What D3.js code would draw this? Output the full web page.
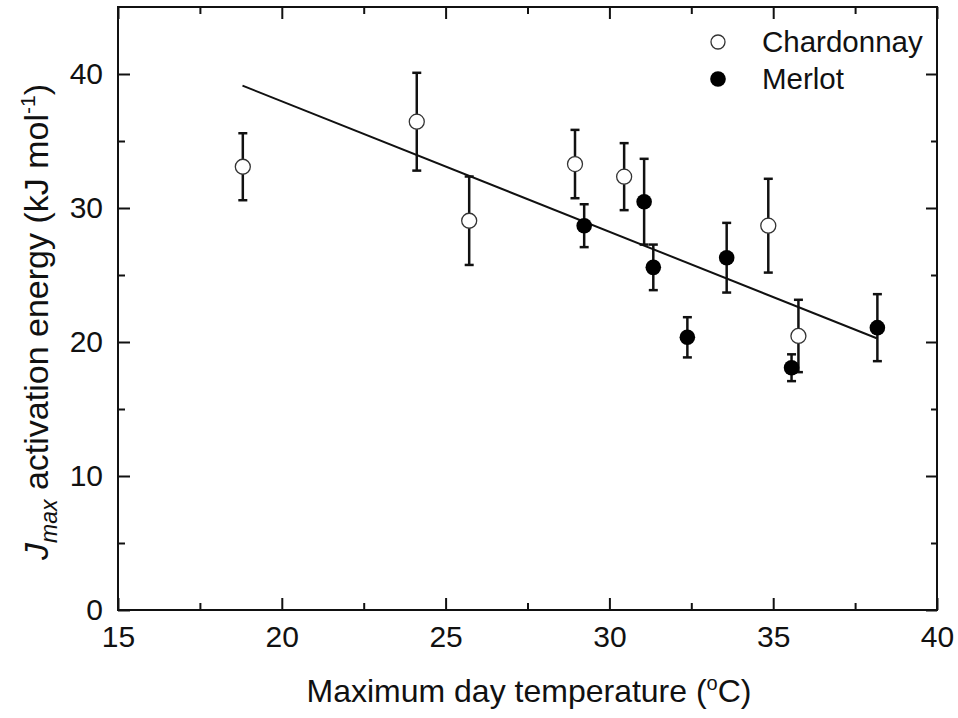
<!DOCTYPE html>
<html><head><meta charset="utf-8">
<script src="https://cdn.jsdelivr.net/npm/d3@7"></script>
<style>
body{margin:0;background:#fff;}
text{font-family:"Liberation Sans",Arial,sans-serif;fill:#111;}
</style></head>
<body><svg id="c" width="958" height="718"></svg>
<script>
// Data
const chardX = [18.81, 24.12, 25.72, 28.95, 30.45, 34.85, 35.77];
const chardY = [33.08, 36.44, 29.05, 33.28, 32.34, 28.68, 20.45];
const chardErr = [2.5, 3.65, 3.3, 2.55, 2.5, 3.5, 2.7];
const merlotX = [29.23, 31.06, 31.34, 32.38, 33.58, 35.56, 38.18];
const merlotY = [28.68, 30.47, 25.57, 20.35, 26.29, 18.08, 21.07];
const merlotErr = [1.6, 3.2, 1.7, 1.5, 2.6, 1.0, 2.5];
const fitX = [18.8, 38.16];
const fitY = [39.13, 20.28];
const xMajor = [15, 20, 25, 30, 35, 40];
const xMinor = [17.5, 22.5, 27.5, 32.5, 37.5];
const yMajor = [0, 10, 20, 30, 40];
const yMinor = [5, 15, 25, 35];

const svg = d3.select("#c");
const L = 118, R = 937, T = 7, B = 610;
const x = d3.scaleLinear().domain([15, 40]).range([L, R]);
const y = d3.scaleLinear().domain([0, 45]).range([B, T]);

function styleAxis(g){
  g.select(".domain").remove();
  g.selectAll(".tick line").attr("stroke", "#111").attr("stroke-width", 2);
  g.selectAll("text").style("font-size", "30px").attr("fill", "#111");
}
// bottom
svg.append("g").attr("transform", `translate(0,${B})`)
  .call(d3.axisBottom(x).tickValues(xMajor).tickSize(-12).tickPadding(16).tickFormat(d3.format("d"))).call(styleAxis);
svg.append("g").attr("transform", `translate(0,${B})`)
  .call(d3.axisBottom(x).tickValues(xMinor).tickSize(-7).tickFormat("")).call(styleAxis);
// top
svg.append("g").attr("transform", `translate(0,${T})`)
  .call(d3.axisTop(x).tickValues(xMajor).tickSize(-12).tickFormat("")).call(styleAxis);
svg.append("g").attr("transform", `translate(0,${T})`)
  .call(d3.axisTop(x).tickValues(xMinor).tickSize(-7).tickFormat("")).call(styleAxis);
// left
svg.append("g").attr("transform", `translate(${L},0)`)
  .call(d3.axisLeft(y).tickValues(yMajor).tickSize(-12).tickPadding(15).tickFormat(d3.format("d"))).call(styleAxis);
svg.append("g").attr("transform", `translate(${L},0)`)
  .call(d3.axisLeft(y).tickValues(yMinor).tickSize(-7).tickFormat("")).call(styleAxis);
// right
svg.append("g").attr("transform", `translate(${R},0)`)
  .call(d3.axisRight(y).tickValues(yMajor).tickSize(-11).tickFormat("")).call(styleAxis);
svg.append("g").attr("transform", `translate(${R},0)`)
  .call(d3.axisRight(y).tickValues(yMinor).tickSize(-6).tickFormat("")).call(styleAxis);

// frame
svg.append("rect").attr("x", L).attr("y", T).attr("width", R - L).attr("height", B - T)
  .attr("fill", "none").attr("stroke", "#111").attr("stroke-width", 2);

// fit line
svg.append("line")
  .attr("x1", x(fitX[0])).attr("y1", y(fitY[0]))
  .attr("x2", x(fitX[1])).attr("y2", y(fitY[1]))
  .attr("stroke", "#111").attr("stroke-width", 2);

const chard = chardX.map((d, i) => ({x: d, y: chardY[i], e: chardErr[i]}));
const merlot = merlotX.map((d, i) => ({x: d, y: merlotY[i], e: merlotErr[i]}));

function errBars(data){
  const g = svg.append("g").attr("stroke", "#111").attr("stroke-width", 2.5);
  data.forEach(d => {
    g.append("line").attr("x1", x(d.x)).attr("x2", x(d.x)).attr("y1", y(d.y + d.e)).attr("y2", y(d.y - d.e));
    g.append("line").attr("x1", x(d.x) - 4.5).attr("x2", x(d.x) + 4.5).attr("y1", y(d.y + d.e)).attr("y2", y(d.y + d.e));
    g.append("line").attr("x1", x(d.x) - 4.5).attr("x2", x(d.x) + 4.5).attr("y1", y(d.y - d.e)).attr("y2", y(d.y - d.e));
  });
}
errBars(chard);
errBars(merlot);

svg.append("g").selectAll("circle").data(chard).join("circle")
  .attr("cx", d => x(d.x)).attr("cy", d => y(d.y)).attr("r", 7.5)
  .attr("fill", "#fff").attr("stroke", "#333").attr("stroke-width", 1.3);
svg.append("g").selectAll("circle").data(merlot).join("circle")
  .attr("cx", d => x(d.x)).attr("cy", d => y(d.y)).attr("r", 7.8)
  .attr("fill", "#000");

// legend
svg.append("circle").attr("cx", 718).attr("cy", 42).attr("r", 7).attr("fill", "#fff").attr("stroke", "#333").attr("stroke-width", 1.3);
svg.append("circle").attr("cx", 718).attr("cy", 79).attr("r", 7.8).attr("fill", "#000");
svg.append("text").attr("x", 762).attr("y", 52).style("font-size", "29.5px").text("Chardonnay");
svg.append("text").attr("x", 762).attr("y", 89).style("font-size", "29.5px").text("Merlot");

// x title
const xt = svg.append("text").attr("x", 529).attr("y", 702).attr("text-anchor", "middle").style("font-size", "32px");
xt.append("tspan").text("Maximum day temperature (");
xt.append("tspan").attr("dy", -12).style("font-size", "20px").text("o");
xt.append("tspan").attr("dy", 12).text("C)");

// y title
const yt = svg.append("text").attr("transform", "translate(48,322) rotate(-90)").attr("text-anchor", "middle").style("font-size", "34px");
yt.append("tspan").style("font-style", "italic").text("J");
yt.append("tspan").attr("dy", 9).style("font-style", "italic").style("font-size", "23px").text("max");
yt.append("tspan").attr("dy", -9).text(" activation energy (kJ mol");
yt.append("tspan").attr("dy", -13).style("font-size", "21px").text("-1");
yt.append("tspan").attr("dy", 13).text(")");
</script></body></html>
